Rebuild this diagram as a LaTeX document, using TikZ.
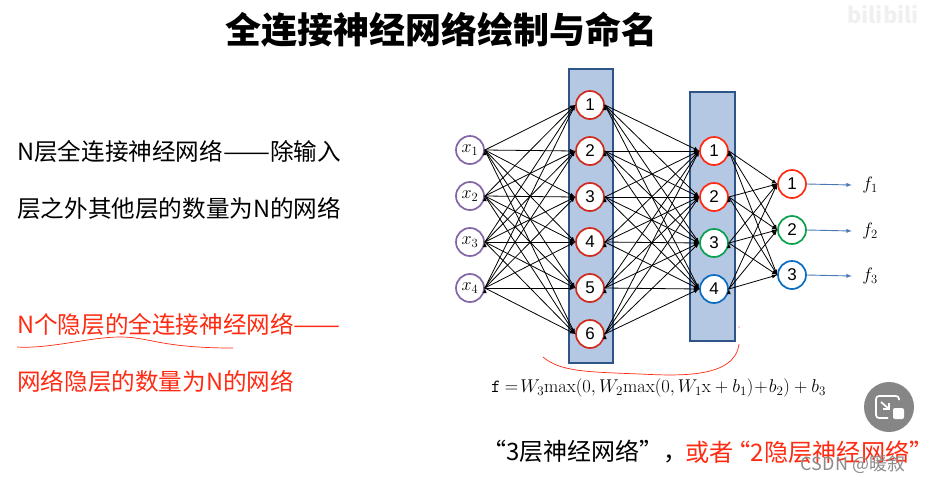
\RequirePackage{fix-cm}
\documentclass[tikz,border=0pt]{standalone}
\usepackage{fontspec}
\setmainfont{Noto Sans CJK SC}
\setmathrm{Latin Modern Roman}
\newfontfamily\numfont{Liberation Sans}
\usepackage{tikz}
\usetikzlibrary{arrows}
\definecolor{boxfill}{HTML}{B4C7E3}
\definecolor{boxline}{HTML}{2F5487}
\definecolor{redline}{HTML}{FF2A12}
\definecolor{darkred}{HTML}{D02A1E}
\definecolor{greenline}{HTML}{0AA050}
\definecolor{blueline}{HTML}{0A6CC0}
\definecolor{purpleline}{HTML}{8266A8}
\definecolor{arrowblue}{HTML}{4A78B4}
\newcommand{\fsize}[1]{\fontsize{#1}{#1}\selectfont}
\newcommand{\longdash}{\resizebox{47pt}{\height}{——}}
\tikzset{
  layerbox/.style={rectangle,draw=boxline,fill=boxfill,line width=1.7pt,inner sep=0pt},
  neuron/.style={circle,draw,fill=white,line width=1.7pt,minimum size=28pt,inner sep=0pt,font=\fsize{17}\numfont},
  inp/.style={neuron,draw=purpleline,font=\fsize{18}},
  hid/.style={neuron,draw=darkred},
  red/.style={neuron,draw=redline},
  grn/.style={neuron,draw=greenline},
  blu/.style={neuron,draw=blueline},
  conn/.style={-latex,black,line width=.8pt},
  outp/.style={-latex,arrowblue,line width=.9pt},
  flabel/.style={inner sep=0pt,minimum width=36pt,font=\fsize{18}},
  txt/.style={anchor=west,inner sep=0pt,font=\fsize{23.6}},
  ink/.style={redline,line width=.7pt}
}
\begin{document}
\begin{tikzpicture}[x=1pt,y=-1pt]
  \useasboundingbox (0,0) rectangle (925,480);
  % title and left column
  \node[inner sep=0pt,font=\fsize{36}\bfseries] (title) at (441,30) {全连接神经网络绘制与命名};
  \node[txt] (t1) at (17,151) {N层全连接神经网络\longdash 除输入};
  \node[txt] (t2) at (17,208) {层之外其他层的数量为N的网络};
  \node[txt,redline] (t3) at (17,324) {N个隐层的全连接神经网络\longdash};
  \node[txt,redline] (t4) at (17,381) {网络隐层的数量为N的网络};
  % layer boxes
  \node[layerbox,minimum width=44pt,minimum height=294pt] (box1) at (591,216) {};
  \node[layerbox,minimum width=45pt,minimum height=249pt] (box2) at (712.5,216.5) {};
  % neurons
  \node[inp] (x1) at (470,150) {$x_1$};
  \node[inp] (x2) at (470,196) {$x_2$};
  \node[inp] (x3) at (470,242) {$x_3$};
  \node[inp] (x4) at (470,288) {$x_4$};
  \node[hid] (a1) at (590,105) {1};
  \node[hid] (a2) at (590,151) {2};
  \node[hid] (a3) at (590,197) {3};
  \node[hid] (a4) at (590,242) {4};
  \node[hid] (a5) at (590,288) {5};
  \node[hid] (a6) at (590,334) {6};
  \node[red] (b1) at (714,151) {1};
  \node[red] (b2) at (714,197) {2};
  \node[grn] (b3) at (714,243) {3};
  \node[blu] (b4) at (714,289) {4};
  \node[red] (c1) at (792,184) {1};
  \node[grn] (c2) at (792,230) {2};
  \node[blu] (c3) at (792,275) {3};
  \node[flabel] (f1) at (870,185) {$f_1$};
  \node[flabel] (f2) at (870,231) {$f_2$};
  \node[flabel] (f3) at (870,276) {$f_3$};
  % connections
  \draw[conn] (x1.east) edge (a1.west) edge (a2.west) edge (a3.west) edge (a4.west) edge (a5.west) edge (a6.west);
  \draw[conn] (x2.east) edge (a1.west) edge (a2.west) edge (a3.west) edge (a4.west) edge (a5.west) edge (a6.west);
  \draw[conn] (x3.east) edge (a1.west) edge (a2.west) edge (a3.west) edge (a4.west) edge (a5.west) edge (a6.west);
  \draw[conn] (x4.east) edge (a1.west) edge (a2.west) edge (a3.west) edge (a4.west) edge (a5.west) edge (a6.west);
  \draw[conn] (a1.east) edge (b1.west) edge (b2.west) edge (b3.west) edge (b4.west);
  \draw[conn] (a2.east) edge (b1.west) edge (b2.west) edge (b3.west) edge (b4.west);
  \draw[conn] (a3.east) edge (b1.west) edge (b2.west) edge (b3.west) edge (b4.west);
  \draw[conn] (a4.east) edge (b1.west) edge (b2.west) edge (b3.west) edge (b4.west);
  \draw[conn] (a5.east) edge (b1.west) edge (b2.west) edge (b3.west) edge (b4.west);
  \draw[conn] (a6.east) edge (b1.west) edge (b2.west) edge (b3.west) edge (b4.west);
  \draw[conn] (b1.east) edge (c1.west) edge (c2.west) edge (c3.west);
  \draw[conn] (b2.east) edge (c1.west) edge (c2.west) edge (c3.west);
  \draw[conn] (b3.east) edge (c1.west) edge (c2.west) edge (c3.west);
  \draw[conn] (b4.east) edge (c1.west) edge (c2.west) edge (c3.west);
  \draw[outp] (c1.east) -- (f1.west);
  \draw[outp] (c2.east) -- (f2.west);
  \draw[outp] (c3.east) -- (f3.west);
  % formula and caption
  \node[anchor=west,inner sep=0pt,font=\fsize{18.5}] (formula) at (491,388) {\texttt{f} $=\!W_3\mathrm{max}(0,W_2\mathrm{max}(0,W_1\mathrm{x}+b_1)\!+\!b_2)+b_3$};
  \node[txt,font=\fsize{24}] (cap1) at (482,452) {“3层神经网络”，};
  \node[txt,redline,font=\fsize{24.2}] (cap2) at (685,452) {或者\kern-7pt“2隐层神经网络”\kern-8pt};
  % hand-drawn marks
  \draw[ink] (17,347) .. controls (50,349) and (90,337) .. (120,337) .. controls (150,337) and (160,348) .. (233,348);
  \draw[ink] (543,357) .. controls (560,372) and (590,372) .. (640,374) .. controls (680,376) and (735,378) .. (739,344);
  \fill[redline] (739,327) circle (.7);
  % player button and watermarks
  \fill[gray!95] (889,407) circle (25);
  \draw[white,line width=1.7pt,rounded corners=3pt] (899,400) -- (899,396) -- (876,396) -- (876,418) -- (888,418);
  \draw[white,line width=1.7pt] (881,402) -- (889,409) (889,403) -- (889,409) -- (883,409);
  \fill[white,rounded corners=2pt] (893,408) rectangle (904,419);
  \node[inner sep=0pt,font=\fsize{18},black!45] (csdn) at (853,464) {CSDN @暖叙};
  \node[inner sep=0pt,font=\fsize{22}\bfseries,black!6] (bili) at (883,15) {bilibili};
\end{tikzpicture}
\end{document}
